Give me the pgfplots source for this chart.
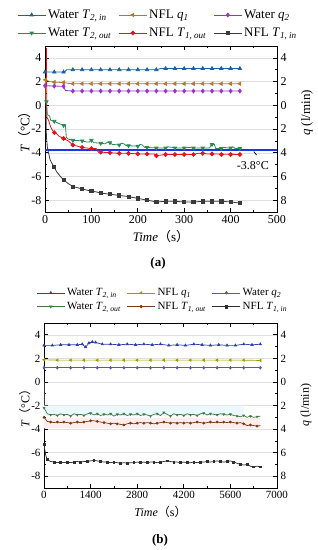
\documentclass[border=0pt]{standalone}
\usepackage{fontspec}
\setmainfont{Liberation Serif}
\newfontfamily\cjk{Noto Sans CJK SC}
\usepackage{pgfplots}
\pgfplotsset{compat=1.18}
\definecolor{aBlue}{HTML}{1F5FA8}
\definecolor{aBrown}{HTML}{B07A28}
\definecolor{aPurple}{HTML}{9933CC}
\definecolor{aGreen}{HTML}{2A8A55}
\definecolor{aRed}{HTML}{E0141E}
\definecolor{aBlack}{HTML}{3A3A3A}
\definecolor{refLine}{HTML}{1A35F0}
\definecolor{bBlue}{HTML}{2E3FA5}
\definecolor{bOlive}{HTML}{9C9A00}
\definecolor{bPurple}{HTML}{5E4FD0}
\definecolor{bGreen}{HTML}{3F7A45}
\definecolor{bBrown}{HTML}{7A3A12}
\definecolor{bBlack}{HTML}{2E2E2E}
\pgfplotsset{
  common/.style={scale only axis, ymin=-9, ymax=5, xmin=0,
    tick align=inside, major tick length=4pt, minor tick length=2pt,
    axis line style={line width=0.9pt}, every tick/.style={black, line width=0.7pt},
    /pgf/number format/assume math mode=true, /pgf/number format/1000 sep={},
    scaled x ticks=false},
  main/.style={common, ytick={-8,-6,...,4}, minor y tick num=1, minor x tick num=1,
    ytick pos=left, xtick pos=both, ymajorgrids, major grid style={gray!25, line width=0.4pt},
    legend columns=3, legend cell align=left, ylabel shift=-6pt,
    legend image code/.code={\draw[##1] (0pt,0pt) -- (28pt,0pt); \path[##1, only marks] plot coordinates {(14pt,0pt)};},
  },
  right/.style={common, axis x line=none, axis y line*=right, ytick={-8,-6,...,4},
    yticklabels={8,6,4,2,0,2,4}, minor y tick num=1, clip=false},
}
\newcommand{\sub}[1]{\textsubscript{\textit{#1}}}
\begin{document}
\begin{tikzpicture}
\useasboundingbox (0,0) rectangle (317pt,-550pt);
% ---------------- panel (a)
\begin{axis}[main, at={(45pt,-212pt)}, anchor=south west, width=232pt, height=166pt,
  xmax=500, xtick={0,100,...,500},
  tick label style={font=\fontsize{12}{12}\selectfont},
  label style={font=\fontsize{13}{13}\selectfont},
  xlabel={\textit{Time}{\cjk （}s{\cjk ）}},
  ylabel={\textit{T}{\cjk （}°C{\cjk ）}},
  legend style={draw=none, fill=none, at={(0.487,1.035)}, anchor=south, inner sep=0pt,
    font=\fontsize{13}{13}\selectfont, row sep=4pt,
    /tikz/every even column/.append style={column sep=5pt}},
  every axis plot/.append style={line width=0.8pt},
  mark size=1.9pt]
\addlegendimage{aBlue, mark=triangle*}\addlegendentry{Water \textit{T}\sub{2, in}}
\addlegendimage{aBrown, mark=triangle*, mark options={rotate=90}}\addlegendentry{NFL \textit{q}\sub{1}}
\addlegendimage{aPurple, mark=diamond*}\addlegendentry{Water \textit{q}\sub{2}}
\addlegendimage{aGreen, mark=triangle*, mark options={rotate=180}}\addlegendentry{Water \textit{T}\sub{2, out}}
\addlegendimage{aRed, mark=*}\addlegendentry{NFL \textit{T}\sub{1, out}}
\addlegendimage{aBlack, mark=square*}\addlegendentry{NFL \textit{T}\sub{1, in}}
% reference line
\addplot[refLine, line width=1.7pt, forget plot] coordinates {(0,-3.8)(500,-3.8)};
% Water T2,in
\addplot[aBlue, forget plot] coordinates {(0,2.8)(42,2.8)(47,3.0)(240,3.0)(250,3.1)(420,3.1)};
\addplot[aBlue, only marks, mark=triangle*, forget plot] coordinates {(0,2.8)(20,2.8)(40,2.8)(60,3.0)(80,3.0)(100,3.0)(120,3.0)(140,3.0)(160,3.0)(180,3.0)(200,3.0)(220,3.0)(240,3.0)(260,3.1)(280,3.1)(300,3.1)(320,3.1)(340,3.1)(360,3.1)(380,3.1)(400,3.1)(420,3.1)};
% NFL q1
\addplot[aBrown, forget plot] coordinates {(0,0)(1,2.15)(10,2.0)(20,1.95)(40,1.92)(50,1.85)(60,1.82)(420,1.82)};
\addplot[aBrown, only marks, mark=triangle*, mark options={rotate=90}, forget plot] coordinates {(1,2.15)(20,1.95)(40,1.92)(60,1.82)(80,1.82)(100,1.82)(120,1.82)(140,1.82)(160,1.82)(180,1.82)(200,1.82)(220,1.82)(240,1.82)(260,1.82)(280,1.82)(300,1.82)(320,1.82)(340,1.82)(360,1.82)(380,1.82)(400,1.82)(420,1.82)};
% Water q2
\addplot[aPurple, forget plot] coordinates {(0,1.65)(40,1.6)(44,1.25)(60,1.2)(420,1.2)};
\addplot[aPurple, only marks, mark=diamond*, forget plot] coordinates {(0,1.65)(20,1.62)(40,1.6)(60,1.2)(80,1.2)(100,1.2)(120,1.2)(140,1.2)(160,1.2)(180,1.2)(200,1.2)(220,1.2)(240,1.2)(260,1.2)(280,1.2)(300,1.2)(320,1.2)(340,1.2)(360,1.2)(380,1.2)(400,1.2)(420,1.2)};
% Water T2,out
\addplot[aGreen, forget plot] coordinates {(3,0.3)(5,-0.8)(10,-0.9)(12,-1.25)(20,-1.35)(25,-1.45)(40,-1.7)(44,-1.7)(46,-2.7)(50,-2.85)(60,-2.95)(80,-3.0)(90,-3.1)(96,-3.1)(98,-2.95)(100,-2.95)(105,-3.15)(120,-3.2)(130,-3.25)(135,-3.1)(140,-3.15)(145,-3.3)(160,-3.35)(165,-3.2)(170,-3.25)(175,-3.4)(200,-3.45)(205,-3.3)(210,-3.35)(215,-3.55)(240,-3.6)(260,-3.6)(265,-3.5)(275,-3.55)(280,-3.6)(300,-3.6)(310,-3.55)(320,-3.6)(340,-3.6)(355,-3.6)(358,-3.3)(365,-3.3)(368,-3.65)(380,-3.65)(385,-3.55)(395,-3.6)(400,-3.6)(405,-3.5)(410,-3.65)(420,-3.65)};
\addplot[aGreen, only marks, mark=triangle*, mark options={rotate=180}, forget plot] coordinates {(3,0.3)(20,-1.35)(40,-1.7)(60,-2.95)(80,-3.0)(100,-2.95)(120,-3.2)(140,-3.15)(160,-3.35)(180,-3.4)(200,-3.45)(220,-3.55)(240,-3.6)(260,-3.6)(280,-3.6)(300,-3.6)(320,-3.6)(340,-3.6)(360,-3.3)(380,-3.65)(400,-3.6)(420,-3.65)};
% NFL T1,out
\addplot[aRed, forget plot] coordinates {(2,4.8)(3,4.8)(4,-1.0)(8,-1.3)(12,-1.8)(16,-2.1)(20,-2.3)(25,-2.4)(30,-2.6)(40,-2.8)(50,-3.0)(60,-3.35)(70,-3.45)(80,-3.55)(90,-3.6)(100,-3.65)(110,-3.65)(115,-3.95)(120,-3.95)(140,-4.0)(160,-4.05)(180,-4.05)(200,-4.1)(220,-4.1)(235,-4.1)(240,-4.25)(250,-4.2)(260,-4.15)(300,-4.15)(320,-4.15)(330,-4.05)(340,-4.05)(350,-4.1)(360,-4.1)(420,-4.15)};
\addplot[aRed, only marks, mark=*, forget plot] coordinates {(20,-2.3)(40,-2.8)(60,-3.35)(80,-3.55)(100,-3.65)(120,-3.95)(140,-4.0)(160,-4.05)(180,-4.05)(200,-4.1)(220,-4.1)(240,-4.25)(260,-4.15)(280,-4.15)(300,-4.15)(320,-4.15)(340,-4.05)(360,-4.1)(380,-4.15)(400,-4.15)(420,-4.15)};
% NFL T1,in
\addplot[aBlack, forget plot] coordinates {(2,-0.2)(3,-2.6)(5,-3.5)(7,-3.9)(11,-4.6)(15,-4.9)(20,-5.2)(25,-5.6)(30,-5.85)(40,-6.3)(50,-6.6)(60,-6.85)(70,-6.95)(80,-7.05)(90,-7.15)(100,-7.25)(110,-7.3)(120,-7.4)(140,-7.5)(160,-7.6)(180,-7.7)(200,-7.85)(220,-8.0)(240,-8.15)(260,-8.1)(280,-8.1)(300,-8.15)(320,-8.15)(340,-8.1)(360,-8.1)(380,-8.1)(400,-8.15)(420,-8.25)};
\addplot[aBlack, only marks, mark=square*, mark size=1.6pt, forget plot] coordinates {(20,-5.2)(40,-6.3)(60,-6.85)(80,-7.05)(100,-7.25)(120,-7.4)(140,-7.5)(160,-7.6)(180,-7.7)(200,-7.85)(220,-8.0)(240,-8.15)(260,-8.1)(280,-8.1)(300,-8.15)(320,-8.15)(340,-8.1)(360,-8.1)(380,-8.1)(400,-8.15)(420,-8.25)};
\draw[line width=0.7pt] (axis cs:450,-3.9) -- (axis cs:456,-4.2);
\node[font=\fontsize{12}{12}\selectfont] at (axis cs:448,-5.05) {-3.8°C};
\end{axis}
\begin{axis}[right, at={(45pt,-212pt)}, anchor=south west, width=232pt, height=166pt,
  xmax=500, tick label style={font=\fontsize{12}{12}\selectfont}]
\end{axis}
\node[rotate=90, font=\fontsize{13}{13}\selectfont] at (307pt,-113pt) {\textit{q} (l/min)};
\node[font=\bfseries\fontsize{13}{13}\selectfont] at (158pt,-263pt) {(a)};
% ---------------- panel (b)
\begin{axis}[main, at={(44pt,-488pt)}, anchor=south west, width=233pt, height=165pt,
  xmax=7000, xtick={0,1400,...,7000},
  tick label style={font=\fontsize{11}{11}\selectfont},
  label style={font=\fontsize{12}{12}\selectfont},
  xlabel={\textit{Time}{\cjk （}s{\cjk ）}},
  ylabel={\textit{T}{\cjk （}°C{\cjk ）}},
  legend style={draw=none, fill=none, at={(0.51,1.06)}, anchor=south, inner sep=0pt,
    font=\fontsize{11}{11}\selectfont, row sep=1pt,
    /tikz/every even column/.append style={column sep=4pt}},
  every axis plot/.append style={line width=0.7pt},
  mark size=1.3pt]
\addlegendimage{bBlue, mark=triangle*}\addlegendentry{Water \textit{T}\sub{2, in}}
\addlegendimage{bOlive, mark=triangle*, mark options={rotate=90}}\addlegendentry{NFL \textit{q}\sub{1}}
\addlegendimage{bPurple, mark=diamond*}\addlegendentry{Water \textit{q}\sub{2}}
\addlegendimage{bGreen, mark=triangle*, mark options={rotate=180}}\addlegendentry{Water \textit{T}\sub{2, out}}
\addlegendimage{bBrown, mark=*}\addlegendentry{NFL \textit{T}\sub{1, out}}
\addlegendimage{bBlack, mark=square*}\addlegendentry{NFL \textit{T}\sub{1, in}}
% faint bands
\addplot[fill=cyan!8, draw=none, forget plot] coordinates {(0,-2.0)(6000,-2.0)(6000,-2.9)(0,-2.9)} \closedcycle;
\addplot[fill=red!7, draw=none, forget plot] coordinates {(0,-3.05)(6500,-3.05)(6500,-3.95)(0,-3.95)} \closedcycle;
% Water T2,in
\addplot[bBlue, mark=triangle*, forget plot] coordinates {(0,3.1)(250,3.1)(500,3.15)(750,3.15)(1000,3.15)(1150,3.2)(1250,2.95)(1350,3.3)(1450,3.4)(1550,3.35)(1750,3.2)(2000,3.2)(2250,3.15)(2500,3.2)(2750,3.15)(3000,3.2)(3250,3.15)(3500,3.2)(3750,3.1)(4000,3.15)(4250,3.1)(4500,3.2)(4750,3.15)(5000,3.1)(5250,3.15)(5500,3.1)(5750,3.1)(6000,3.2)(6250,3.15)(6500,3.2)};
% NFL q1
\addplot[bOlive, mark=triangle*, mark options={rotate=90}, forget plot] coordinates {(0,1.88)(400,1.85)(800,1.85)(1200,1.85)(1600,1.85)(2000,1.85)(2400,1.85)(2800,1.85)(3200,1.85)(3600,1.85)(4000,1.85)(4400,1.85)(4800,1.85)(5200,1.85)(5600,1.85)(6000,1.85)(6500,1.82)};
% Water q2
\addplot[bPurple, mark=diamond*, forget plot] coordinates {(0,1.2)(400,1.2)(800,1.2)(1200,1.2)(1600,1.2)(2000,1.2)(2400,1.2)(2800,1.2)(3200,1.2)(3600,1.2)(4000,1.2)(4400,1.2)(4800,1.2)(5200,1.2)(5600,1.2)(6000,1.2)(6500,1.2)};
% Water T2,out
\addplot[bGreen, mark=triangle*, mark options={rotate=180}, mark size=1pt, mark repeat=2, forget plot] coordinates {(0,-2.2)(100,-2.7)(200,-2.8)(300,-2.75)(400,-2.85)(500,-2.7)(600,-2.8)(700,-2.75)(800,-2.9)(900,-2.7)(1000,-2.8)(1100,-2.75)(1200,-2.85)(1300,-2.7)(1400,-2.65)(1500,-2.8)(1600,-2.7)(1700,-2.85)(1800,-2.75)(1900,-2.8)(2000,-2.7)(2100,-2.9)(2200,-2.75)(2300,-2.8)(2400,-2.7)(2500,-2.85)(2600,-2.75)(2700,-2.8)(2800,-2.7)(2900,-2.85)(3000,-2.75)(3100,-2.8)(3200,-2.9)(3300,-2.75)(3400,-2.7)(3500,-2.85)(3600,-2.6)(3700,-2.75)(3800,-2.9)(3900,-2.7)(4000,-2.8)(4100,-2.75)(4200,-2.85)(4300,-2.7)(4400,-2.8)(4500,-2.75)(4600,-2.85)(4700,-2.7)(4800,-2.65)(4900,-2.8)(5000,-2.7)(5100,-2.75)(5200,-2.8)(5300,-2.7)(5400,-2.75)(5500,-2.8)(5600,-2.75)(5700,-2.85)(5800,-2.9)(5900,-2.95)(6000,-2.85)(6100,-3.0)(6200,-2.9)(6300,-3.0)(6400,-2.95)(6500,-2.9)};
% NFL T1,out
\addplot[bBrown, mark=*, mark size=1pt, mark repeat=2, forget plot] coordinates {(0,-3.0)(100,-3.35)(200,-3.4)(300,-3.45)(400,-3.4)(500,-3.45)(600,-3.4)(700,-3.45)(800,-3.5)(900,-3.45)(1000,-3.4)(1100,-3.45)(1200,-3.4)(1300,-3.35)(1400,-3.3)(1500,-3.3)(1600,-3.35)(1700,-3.4)(1800,-3.45)(1900,-3.5)(2000,-3.55)(2100,-3.5)(2200,-3.55)(2300,-3.6)(2400,-3.65)(2500,-3.55)(2600,-3.5)(2700,-3.55)(2800,-3.5)(2900,-3.45)(3000,-3.5)(3100,-3.45)(3200,-3.5)(3300,-3.55)(3400,-3.5)(3500,-3.45)(3600,-3.4)(3700,-3.45)(3800,-3.5)(3900,-3.45)(4000,-3.5)(4100,-3.45)(4200,-3.5)(4300,-3.45)(4400,-3.5)(4500,-3.45)(4600,-3.4)(4700,-3.45)(4800,-3.5)(4900,-3.45)(5000,-3.4)(5100,-3.45)(5200,-3.4)(5300,-3.45)(5400,-3.4)(5500,-3.45)(5600,-3.4)(5700,-3.45)(5800,-3.5)(5900,-3.45)(6000,-3.55)(6100,-3.7)(6200,-3.65)(6300,-3.7)(6400,-3.75)(6500,-3.7)};
% NFL T1,in
\addplot[bBlack, mark=square*, mark size=0.9pt, mark repeat=2, forget plot] coordinates {(0,-5.3)(50,-6.2)(100,-6.6)(200,-6.75)(300,-6.8)(400,-6.85)(500,-6.8)(600,-6.85)(700,-6.8)(800,-6.85)(900,-6.8)(1000,-6.75)(1100,-6.8)(1200,-6.75)(1300,-6.75)(1400,-6.7)(1500,-6.65)(1600,-6.7)(1700,-6.75)(1800,-6.8)(1900,-6.8)(2000,-6.85)(2100,-6.8)(2200,-6.85)(2300,-6.9)(2400,-6.85)(2500,-6.9)(2600,-6.85)(2700,-6.85)(2800,-6.8)(2900,-6.85)(3000,-6.8)(3100,-6.85)(3200,-6.8)(3300,-6.8)(3400,-6.85)(3500,-6.8)(3600,-6.75)(3700,-6.7)(3800,-6.75)(3900,-6.8)(4000,-6.8)(4100,-6.85)(4200,-6.8)(4300,-6.85)(4400,-6.85)(4500,-6.8)(4600,-6.85)(4700,-6.8)(4800,-6.8)(4900,-6.75)(5000,-6.8)(5100,-6.75)(5200,-6.7)(5300,-6.75)(5400,-6.8)(5500,-6.75)(5600,-6.7)(5700,-6.8)(5800,-6.9)(5900,-7.0)(6000,-7.05)(6100,-7.0)(6200,-7.15)(6300,-7.2)(6400,-7.15)(6500,-7.2)};
\end{axis}
\begin{axis}[right, at={(44pt,-488pt)}, anchor=south west, width=233pt, height=165pt,
  xmax=7000, tick label style={font=\fontsize{11}{11}\selectfont}]
\end{axis}
\node[rotate=90, font=\fontsize{12}{12}\selectfont] at (306pt,-405pt) {\textit{q} (l/min)};
\node[font=\bfseries\fontsize{13}{13}\selectfont] at (160pt,-540pt) {(b)};
\end{tikzpicture}
\end{document}
